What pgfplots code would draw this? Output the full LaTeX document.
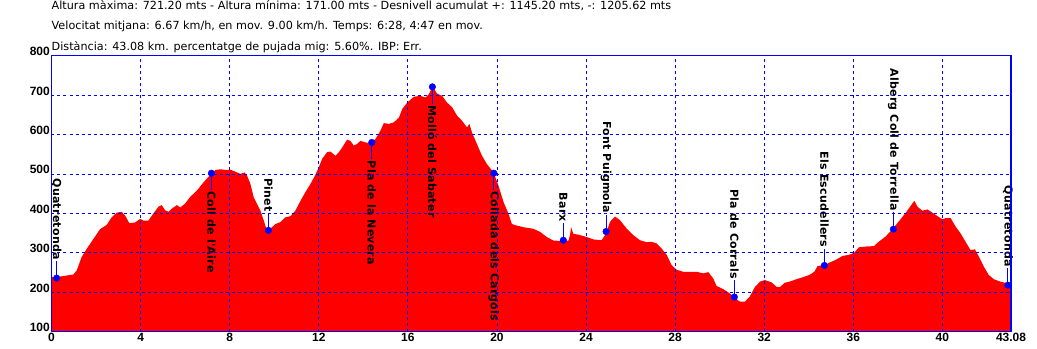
\documentclass[border=0pt]{standalone}
\usepackage{fontspec}
\setmainfont{DejaVu Sans}
\newfontfamily\lblfont[LetterSpace=2]{DejaVu Sans}
\newfontfamily\tickfont{Liberation Sans}
\usepackage{pgfplots}
\pgfplotsset{compat=1.18}
\begin{document}
\begin{tikzpicture}
\begin{axis}[
 width=959.5pt, height=276pt, scale only axis,
 xmin=0, xmax=43.08, ymin=100, ymax=800,
 xtick={0,4,8,12,16,20,24,28,32,36,40,43.08},
 xticklabels={0,4,8,12,16,20,24,28,32,36,40,43.08},
 ytick={100,200,300,400,500,600,700,800},
 yticklabels={100,200,300,400,500,600,700,800},
 grid=major,
 major grid style={blue, dash pattern=on 3pt off 3pt, line width=0.9pt},
 axis line style={blue, line width=1.2pt},
 major tick length=0pt,
 xticklabel style={font=\tickfont\fontsize{12}{12}\selectfont\bfseries, anchor=north, inner sep=0pt, yshift=-1.5pt},
 yticklabel style={font=\tickfont\fontsize{12}{12}\selectfont\bfseries, anchor=base east, inner sep=0pt, xshift=-1.5pt},
 axis on top, clip=false,
]
\addplot[fill=red, draw=none] coordinates {
(0.0,240) (0.2,236) (0.4,240) (0.98,245) (1.13,255) (1.35,289) (1.58,310) (1.88,335)
(2.18,360) (2.48,371) (2.7,390) (2.93,402) (3.15,404) (3.3,395) (3.5,375) (3.75,377)
(3.98,386) (4.13,382) (4.35,382) (4.58,400) (4.8,417) (4.95,421) (5.1,408) (5.26,404)
(5.4,412) (5.63,421) (5.78,415) (6.0,425) (6.23,442) (6.53,458) (6.83,479) (7.13,498)
(7.36,510) (7.58,512) (7.88,510) (8.03,511) (8.25,506) (8.48,500) (8.66,504) (8.78,496)
(8.93,475) (9.08,441) (9.23,424) (9.38,407) (9.53,382) (9.65,360) (9.75,356) (9.9,365)
(10.05,373) (10.28,378) (10.5,390) (10.73,393) (10.95,407) (11.18,432) (11.4,454) (11.63,475)
(11.85,498) (12.0,517) (12.15,538) (12.37,555) (12.52,557) (12.75,546) (12.9,555) (13.05,567)
(13.27,587) (13.42,584) (13.57,572) (13.72,576) (13.87,584) (14.1,580) (14.32,578) (14.55,589)
(14.77,610) (14.92,629) (15.15,627) (15.37,631) (15.6,643) (15.75,665) (15.97,681) (16.27,696)
(16.57,698) (16.79,694) (16.94,702) (17.09,719) (17.12,721) (17.31,704) (17.54,698) (17.76,681)
(17.99,669) (18.21,648) (18.43,635) (18.66,618) (18.76,627) (18.88,605) (19.1,576) (19.33,546)
(19.55,525) (19.85,504) (20.07,470) (20.3,428) (20.52,399) (20.67,373) (20.9,369) (21.19,365)
(21.64,361) (21.94,353) (22.24,340) (22.54,331) (22.99,330) (23.21,331) (23.28,345) (23.33,365)
(23.43,348) (23.66,346) (24.04,340) (24.33,334) (24.7,332) (24.9,349) (25.08,379) (25.3,392)
(25.52,383) (25.82,362) (26.12,345) (26.42,332) (26.72,327) (26.94,328) (27.17,324) (27.39,311)
(27.62,295) (27.84,269) (28.07,257) (28.36,252) (28.66,252) (28.96,252) (29.26,248) (29.49,251)
(29.71,235) (29.86,216) (30.16,208) (30.46,197) (30.65,187) (30.91,176) (31.13,176) (31.35,189)
(31.58,213) (31.81,227) (32.03,231) (32.33,225) (32.55,214) (32.7,213) (32.92,224) (33.14,227)
(33.44,233) (33.73,238) (34.03,244) (34.25,252) (34.4,267) (34.67,268) (34.92,275) (35.21,282)
(35.51,292) (35.81,295) (36.03,300) (36.25,314) (36.55,316) (36.92,317) (37.14,328) (37.44,341)
(37.73,358) (38.03,379) (38.33,400) (38.55,417) (38.74,432) (38.88,417) (39.1,407) (39.33,410)
(39.55,402) (39.78,393) (40.0,385) (40.15,388) (40.37,388) (40.6,366) (40.82,349) (41.04,328)
(41.26,307) (41.46,309) (41.64,290) (41.86,265) (42.08,244) (42.31,233) (42.6,227) (42.9,223)
(43.08,221)
} \closedcycle;
\addplot[only marks, mark=*, mark size=3.3pt, blue] coordinates {
(0.23,236) (7.18,502) (9.74,357) (14.38,580) (17.1,721) (19.86,502)
(22.98,332) (24.9,354) (30.66,188) (34.7,268) (37.8,360) (42.94,218)
};
\tikzset{wl/.style={rotate=-90, inner sep=1pt, text=black, font=\lblfont\bfseries\fontsize{11}{11}\selectfont}}
\draw[blue, line width=1pt] (axis cs:0.23,236) -- (axis cs:0.23,279) node[wl, anchor=east]{Quatretonda};
\draw[blue, line width=1pt] (axis cs:7.18,502) -- (axis cs:7.18,459) node[wl, anchor=west]{Coll de l'Aire};
\draw[blue, line width=1pt] (axis cs:9.74,357) -- (axis cs:9.74,400) node[wl, anchor=east]{Pinet};
\draw[blue, line width=1pt] (axis cs:14.38,580) -- (axis cs:14.38,537) node[wl, anchor=west]{Pla de la Nevera};
\draw[blue, line width=1pt] (axis cs:17.1,721) -- (axis cs:17.1,678) node[wl, anchor=west]{Molló del Sabater};
\draw[blue, line width=1pt] (axis cs:19.86,502) -- (axis cs:19.86,459) node[wl, anchor=west]{Collada dels Cargols};
\draw[blue, line width=1pt] (axis cs:22.98,332) -- (axis cs:22.98,375) node[wl, anchor=east]{Barx};
\draw[blue, line width=1pt] (axis cs:24.9,354) -- (axis cs:24.9,397) node[wl, anchor=east]{Font Puigmola};
\draw[blue, line width=1pt] (axis cs:30.66,188) -- (axis cs:30.66,231) node[wl, anchor=east]{Pla de Corrals};
\draw[blue, line width=1pt] (axis cs:34.7,268) -- (axis cs:34.7,311) node[wl, anchor=east]{Els Escudellers};
\draw[blue, line width=1pt] (axis cs:37.8,360) -- (axis cs:37.8,403) node[wl, anchor=east]{Alberg Coll de Torrella};
\draw[blue, line width=1pt] (axis cs:42.94,218) -- (axis cs:42.94,261) node[wl, anchor=east]{Quatretonda};
\coordinate (NW) at (rel axis cs:0,1);
\coordinate (SW) at (rel axis cs:0,0);
\coordinate (NE) at (rel axis cs:1,1);
\end{axis}
\begin{scope}[every node/.style={anchor=base west, inner sep=0pt, font=\fontsize{11.2}{11.2}\selectfont}]
\node at ([yshift=46.5pt]NW) {Altura màxima: 721.20 mts - Altura mínima: 171.00 mts - Desnivell acumulat +: 1145.20 mts, -: 1205.62 mts};
\node at ([yshift=26pt]NW) {Velocitat mitjana: 6.67 km/h, en mov. 9.00 km/h. Temps: 6:28, 4:47 en mov.};
\node at ([yshift=5.7pt]NW) {Distància: 43.08 km. percentatge de pujada mig: 5.60\%. IBP: Err.};
\end{scope}
\pgfresetboundingbox
\path ([xshift=-51.5pt, yshift=-17.3pt]SW) rectangle ([xshift=26pt, yshift=55.7pt]NE);
\end{tikzpicture}
\end{document}
